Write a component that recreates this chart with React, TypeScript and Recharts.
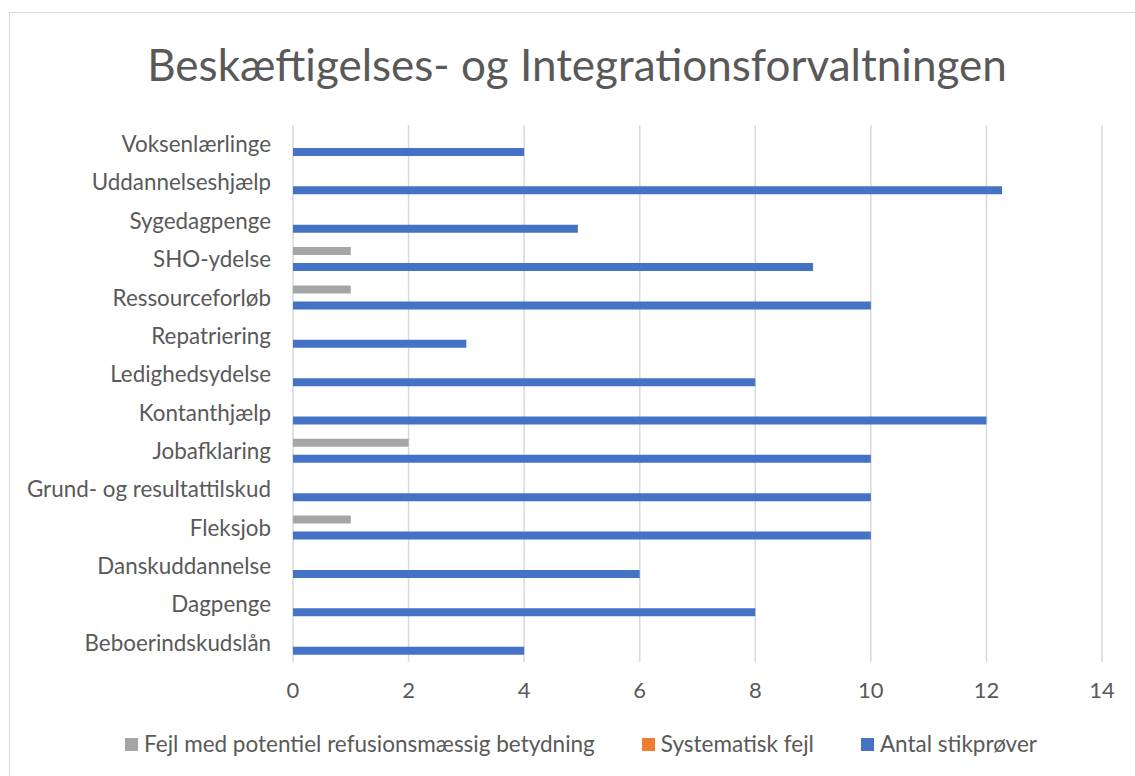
import React from 'react';
import { BarChart, Bar, XAxis, YAxis, CartesianGrid, Legend } from 'recharts';

// Categories listed top to bottom, as in the reference
const CATEGORIES = [
    'Voksenlærlinge',
    'Uddannelseshjælp',
    'Sygedagpenge',
    'SHO-ydelse',
    'Ressourceforløb',
    'Repatriering',
    'Ledighedsydelse',
    'Kontanthjælp',
    'Jobafklaring',
    'Grund- og resultattilskud',
    'Fleksjob',
    'Danskuddannelse',
    'Dagpenge',
    'Beboerindskudslån',
];

const FEJL_POTENTIEL = [0, 0, 0, 1, 1, 0, 0, 0, 2, 0, 1, 0, 0, 0];
const SYSTEMATISK_FEJL = [0, 0, 0, 0, 0, 0, 0, 0, 0, 0, 0, 0, 0, 0];
const ANTAL_STIKPROEVER = [4, 12.27, 4.93, 9, 10, 3, 8, 12, 10, 10, 10, 6, 8, 4];

const X_TICKS = [0, 2, 4, 6, 8, 10, 12, 14];

const SERIES = [
    { key: 'fejl', name: 'Fejl med potentiel refusionsmæssig betydning', color: '#a5a5a5' },
    { key: 'systematisk', name: 'Systematisk fejl', color: '#ed7d31' },
    { key: 'antal', name: 'Antal stikprøver', color: '#4472c4' },
];

const TEXT = '#595959';
const FONT = 'Lato, "Open Sans", sans-serif';

const data = CATEGORIES.map((name, i) => ({
    name,
    fejl: FEJL_POTENTIEL[i],
    systematisk: SYSTEMATISK_FEJL[i],
    antal: ANTAL_STIKPROEVER[i],
}));

// keep legend in series order (recharts 3 sorts the payload by default)
const LegendContent = () => (
    <div
        style={{
            display: 'flex',
            justifyContent: 'center',
            gap: 47,
            paddingLeft: 50,
            fontFamily: FONT,
            fontSize: 22.5,
            color: TEXT,
            lineHeight: '28px',
        }}
    >
        {SERIES.map((s) => (
            <div key={s.key} style={{ display: 'flex', alignItems: 'center' }}>
                <span style={{ display: 'inline-block', width: 13, height: 13, background: s.color, marginRight: 6 }} />
                <span>{s.name}</span>
            </div>
        ))}
    </div>
);

const App: React.FC = () => {
    return (
        <div
            style={{
                position: 'absolute',
                left: 9,
                top: 12,
                width: 1126,
                height: 764,
                borderLeft: '1px solid #d9d9d9',
                borderTop: '1px solid #d9d9d9',
                background: '#fff',
                fontFamily: FONT,
            }}
        >
            <div
                style={{
                    position: 'absolute',
                    top: 25,
                    left: 0,
                    width: 1134,
                    textAlign: 'center',
                    fontSize: 44,
                    color: TEXT,
                    lineHeight: '52px',
                }}
            >
                Beskæftigelses- og Integrationsforvaltningen
            </div>
            <BarChart
                layout="vertical"
                width={1126}
                height={764}
                data={data}
                margin={{ top: 112, right: 34, bottom: 19, left: 0 }}
                barGap={0}
                barSize={8}
            >
                <CartesianGrid horizontal={false} stroke="#d9d9d9" strokeWidth={1.5} />
                <XAxis
                    type="number"
                    domain={[0, 14]}
                    ticks={X_TICKS}
                    axisLine={false}
                    tickLine={false}
                    tickSize={0}
                    tickMargin={20}
                    height={68}
                    tick={{ fill: TEXT, fontSize: 22, fontFamily: FONT }}
                />
                <YAxis
                    type="category"
                    dataKey="name"
                    width={283}
                    axisLine={false}
                    tickLine={false}
                    tickSize={0}
                    tickMargin={22}
                    interval={0}
                    tick={{ fill: TEXT, fontSize: 22.4, fontFamily: FONT }}
                />
                <Legend verticalAlign="bottom" height={28} content={<LegendContent />} />
                {SERIES.map((s) => (
                    <Bar key={s.key} dataKey={s.key} name={s.name} fill={s.color} isAnimationActive={false} />
                ))}
            </BarChart>
        </div>
    );
};

export default App;
